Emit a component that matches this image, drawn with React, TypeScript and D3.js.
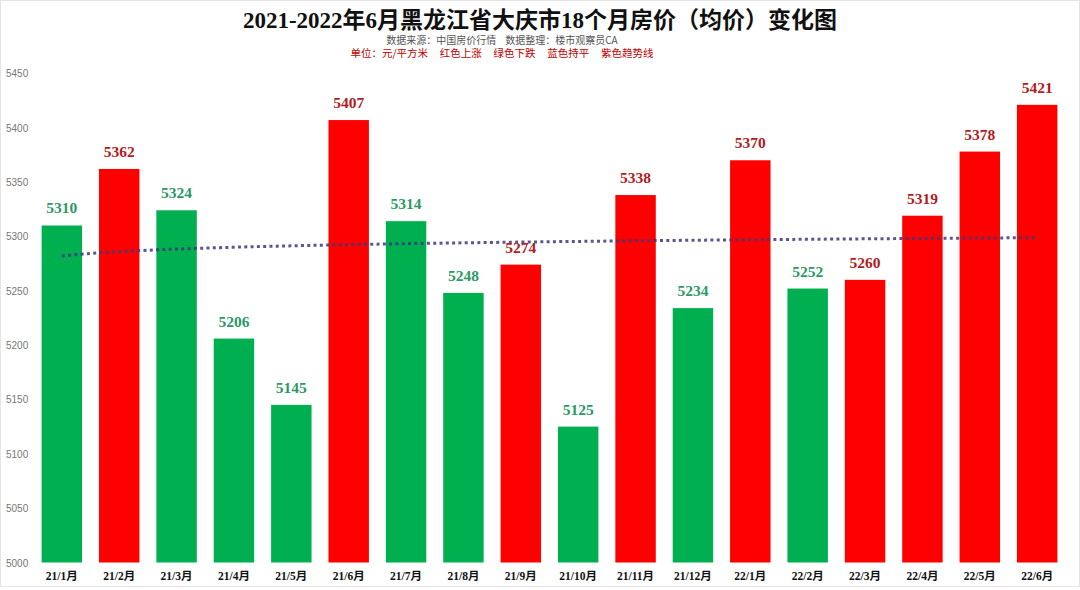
import React from 'react';
import * as d3 from 'd3';

const months = ['21/1月', '21/2月', '21/3月', '21/4月', '21/5月', '21/6月', '21/7月', '21/8月', '21/9月',
  '21/10月', '21/11月', '21/12月', '22/1月', '22/2月', '22/3月', '22/4月', '22/5月', '22/6月'];
const prices = [5310, 5362, 5324, 5206, 5145, 5407, 5314, 5248, 5274, 5125, 5338, 5234, 5370, 5252, 5260, 5319, 5378, 5421];
// up = red, down = green
const trend = ['down', 'up', 'down', 'down', 'down', 'up', 'down', 'down', 'up', 'down', 'up', 'down', 'up', 'down', 'up', 'up', 'up', 'up'];
const yTicks = [5000, 5050, 5100, 5150, 5200, 5250, 5300, 5350, 5400, 5450];

const title = '2021-2022年6月黑龙江省大庆市18个月房价（均价）变化图';
const source = '数据来源：中国房价行情    数据整理：楼市观察员CA';
const legendLine = '单位：元/平方米     红色上涨     绿色下跌     蓝色持平     紫色趋势线';

const W = 1080;
const H = 590;

const App = () => {
  const x = d3.scaleBand<string>()
    .domain(months)
    .range([33, 1066])
    .paddingInner(0.295)
    .paddingOuter(0.15);

  const y = d3.scaleLinear()
    .domain([5000, 5450])
    .range([562.5, 73.3]);

  // logarithmic trendline (least squares of price on ln(month index)), like the spreadsheet's
  const lnIdx = prices.map((_, i) => Math.log(i + 1));
  const mL = d3.mean(lnIdx) as number;
  const mP = d3.mean(prices) as number;
  const b = d3.sum(lnIdx, (v, i) => (v - mL) * (prices[i] - mP)) / d3.sum(lnIdx, v => (v - mL) ** 2);
  const a = mP - b * mL;
  const step = x.step();
  const x0 = x(months[0])! + x.bandwidth() / 2;
  const trendPts: [number, number][] = d3.range(1, 18.001, 0.25)
    .map(t => [x0 + (t - 1) * step, y(a + b * Math.log(t))]);
  const line = d3.line().curve(d3.curveMonotoneX);

  const serif = '"Times New Roman", "Liberation Serif", "Noto Sans CJK SC", serif';
  const cjk = '"Noto Sans CJK SC", sans-serif';

  return (
    <div style={{ position: 'absolute', left: 0, top: 0 }}>
      <svg width={W} height={H} style={{ display: 'block', background: '#fff' }}>
        <rect x={0.5} y={0.5} width={W - 1} height={H - 4} fill="none" stroke="#e4e4e4" />

        <text x={540} y={28} textAnchor="middle" fontFamily={serif} fontWeight="bold" fontSize={23} fill="#111">
          {title}
        </text>
        <text x={502} y={44} textAnchor="middle" fontFamily={cjk} fontSize={10} fill="#555" style={{ whiteSpace: 'pre' }}>
          {source}
        </text>
        <text x={502} y={57} textAnchor="middle" fontFamily={cjk} fontSize={10.5} fill="#c00000" style={{ whiteSpace: 'pre' }}>
          {legendLine}
        </text>

        {yTicks.map(t => (
          <text key={t} x={6} y={y(t) + 4} fontFamily='"Liberation Sans", sans-serif' fontSize={10} fill="#777">
            {t}
          </text>
        ))}

        {prices.map((v, i) => (
          <rect key={months[i]} x={x(months[i])} y={y(v)} width={x.bandwidth()} height={y(5000) - y(v)}
            fill={trend[i] === 'up' ? '#ff0000' : '#00b050'} />
        ))}

        <path d={line(trendPts) || ''} fill="none" stroke="#3c3a7e" strokeWidth={3}
          strokeDasharray="3 3.3" opacity={0.85} />

        {prices.map((v, i) => (
          <text key={'l' + i} x={x(months[i])! + x.bandwidth() / 2} y={y(v) - 12} textAnchor="middle"
            fontFamily={serif} fontWeight="bold" fontSize={15.5}
            fill={trend[i] === 'up' ? '#b01c22' : '#2e9866'}>
            {v}
          </text>
        ))}

        {months.map(m => (
          <text key={m} x={x(m)! + x.bandwidth() / 2} y={580} textAnchor="middle"
            fontFamily={serif} fontWeight="bold" fontSize={11.5} fill="#111">
            {m}
          </text>
        ))}
      </svg>
    </div>
  );
};

export default App;
